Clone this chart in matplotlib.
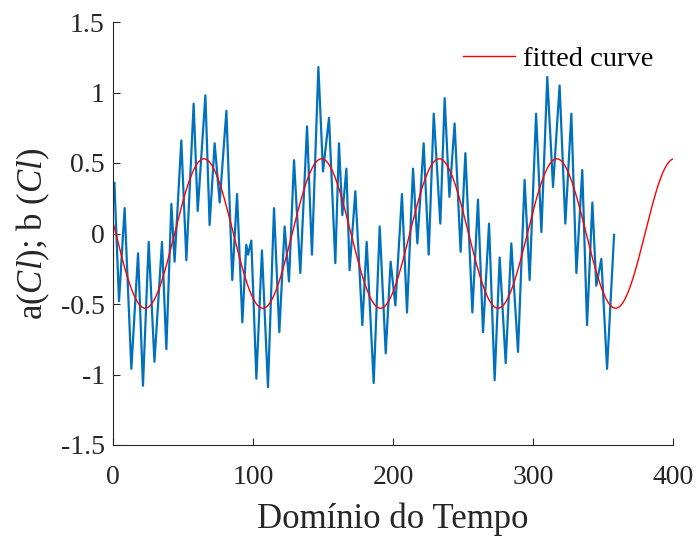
import numpy as np
import matplotlib
matplotlib.use("Agg")
import matplotlib.pyplot as plt

tempo = [0, 1, 4.3, 8.3, 13.1, 17.9, 21.4, 25.5, 29.6, 35, 38.1, 41.7, 44, 48.8, 52.4,
         57.6, 60.5, 66, 69, 72.6, 76.2, 81, 85.2, 88.6, 92.4, 95.2, 96.5, 98.8,
         102.4, 106.4, 110.7, 115, 118.8, 122.6, 125.7, 129.3, 133.8, 138.6, 142.1,
         146.7, 150, 154.3, 158.8, 161.4, 163.8, 166.7, 169, 173.1, 178.1, 181.2,
         186.2, 190.5, 194.8, 198.3, 201.7, 206.4, 210, 214.3, 217.4, 221.9, 225.5,
         229.1, 233.8, 236.9, 240.3, 244, 248.3, 251.7, 256.7, 260.7, 264.3, 268.6,
         272.6, 276.2, 280.5, 284.5, 289.3, 294, 297.6, 302.2, 306, 310.2, 314.3,
         319, 323.1, 327.4, 331, 335.2, 338.6, 342.4, 345.2, 348.8, 352.9, 357.9]
sinal = [0.33, 0.36, -0.48, 0.18, -0.96, -0.14, -1.08, -0.06, -0.91, -0.06, -0.82, 0.21,
         -0.20, 0.66, -0.19, 0.92, 0.16, 0.98, 0.06, 0.64, 0.22, 0.87, -0.33, 0.28,
         -0.63, -0.08, -0.15, -0.05, -1.03, -0.12, -1.09, 0.18, -0.70, 0.05, -0.34,
         0.52, -0.28, 0.76, -0.15, 1.18, 0.44, 0.82, -0.21, 0.64, 0.13, 0.46, -0.26,
         0.30, -0.65, -0.06, -1.06, 0.05, -0.85, -0.20, -0.51, 0.28, -0.56, 0.46,
         -0.07, 0.64, -0.15, 0.85, 0.07, 0.96, 0.26, 0.78, -0.13, 0.57, -0.56, 0.24,
         -0.70, 0.07, -1.04, -0.17, -0.92, -0.07, -0.84, 0.38, -0.33, 0.85, 0.01,
         1.11, 0.33, 1.05, 0.07, 0.85, -0.28, 0.45, -0.65, 0.22, -0.37, -0.18,
         -0.96, -0.01]

# parametros da curva ajustada: y = a*sin(b*t + c)
a_fit = 0.53
periodo_fit = 84.0
desloc_fit = 2.0
t_fit_max = 400

xticks = [0, 100, 200, 300, 400]
yticks = [-1.5, -1, -0.5, 0, 0.5, 1, 1.5]
ytick_labels = ['-1.5', '-1', '-0.5', '0', '0.5', '1', '1.5']

plt.rcParams['font.family'] = ['Liberation Serif', 'DejaVu Serif']
plt.rcParams['mathtext.fontset'] = 'custom'
plt.rcParams['mathtext.rm'] = 'Liberation Serif'
plt.rcParams['mathtext.it'] = 'Liberation Serif:italic'
plt.rcParams['axes.unicode_minus'] = False

fig = plt.figure(figsize=(6.98, 5.36), dpi=100)
ax = fig.add_axes([113 / 698, 1 - 445 / 536, 560 / 698, 423 / 536])

ax.plot(tempo, sinal, color='#0072BD', linewidth=1.6, solid_joinstyle='round')

t_fit = np.linspace(0, t_fit_max, 800)
b_fit = 2 * np.pi / periodo_fit
y_fit = a_fit * np.sin(b_fit * (t_fit - desloc_fit) + np.pi)
ax.plot(t_fit, y_fit, color='red', linewidth=1.0, label='fitted curve')

ax.set_xlim(0, 400)
ax.set_ylim(-1.5, 1.5)
ax.set_xticks(xticks)
ax.set_xticklabels([str(v) for v in xticks])
ax.set_yticks(yticks)
ax.set_yticklabels(ytick_labels)

cinza = '#262626'
for lado in ['top', 'right']:
    ax.spines[lado].set_visible(False)
for lado in ['left', 'bottom']:
    ax.spines[lado].set_color(cinza)
    ax.spines[lado].set_linewidth(0.8)
ax.tick_params(direction='in', length=5, width=0.8, colors=cinza,
               labelsize=20, labelcolor=cinza, pad=6)
ax.tick_params(axis='x', pad=14.5)

ax.set_xlabel('Domínio do Tempo', fontsize=25, color=cinza, labelpad=9)
ax.set_ylabel(r'a($\mathit{Cl}$); b ($\mathit{Cl}$)', fontsize=25, color=cinza, labelpad=6)

ax.legend(loc='upper right', bbox_to_anchor=(1.011, 1.003), frameon=False,
          fontsize=20.5, handlelength=1.8, handletextpad=0.3)

fig.savefig('out.png', dpi=100)
